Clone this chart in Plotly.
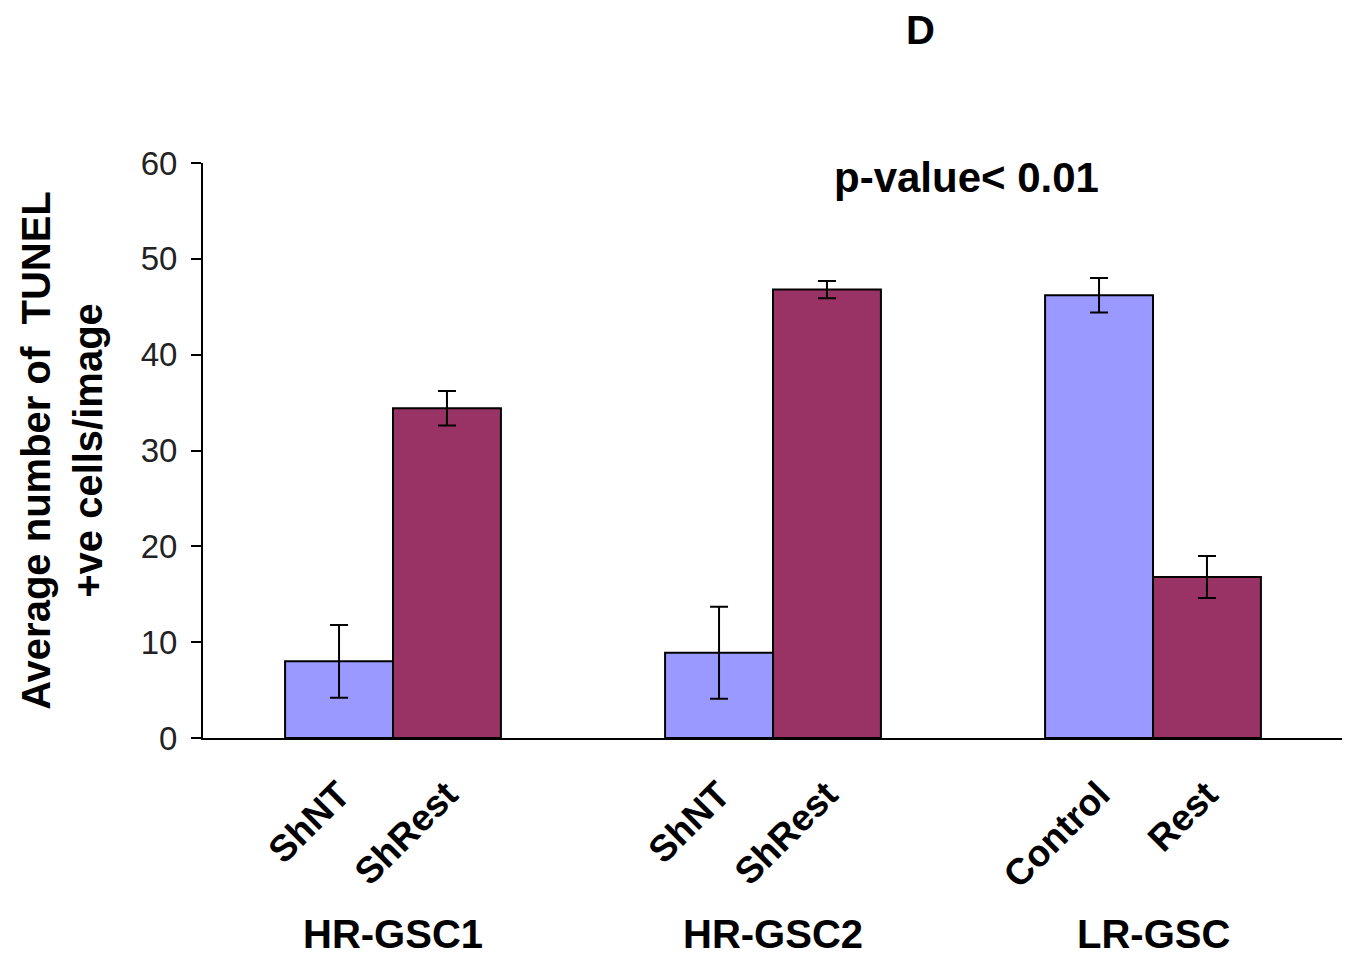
import plotly.graph_objects as go

groups = ["HR-GSC1", "HR-GSC2", "LR-GSC"]
first_labels = ["ShNT", "ShNT", "Control"]
second_labels = ["ShRest", "ShRest", "Rest"]
first_values = [8.0, 8.9, 46.2]
first_err = [3.8, 4.8, 1.8]
second_values = [34.4, 46.8, 16.8]
second_err = [1.8, 0.9, 2.2]
y_ticks = [0, 10, 20, 30, 40, 50, 60]

bar_w = 0.284
gi = list(range(len(groups)))
x1 = [g - bar_w / 2 for g in gi]
x2 = [g + bar_w / 2 for g in gi]

FONT = "Liberation Sans, Arial, sans-serif"
W, H = 1342, 953
ML, MR, MT, MB = 195, 7, 155, 223
PW, PH = W - ML - MR, H - MT - MB

fig = go.Figure()
fig.add_trace(go.Bar(
    x=x1, y=first_values, width=bar_w,
    marker=dict(color="#9999FF", line=dict(color="black", width=2)),
    error_y=dict(type="data", array=first_err, color="black", thickness=2, width=9),
    showlegend=False,
))
fig.add_trace(go.Bar(
    x=x2, y=second_values, width=bar_w,
    marker=dict(color="#993366", line=dict(color="black", width=2)),
    error_y=dict(type="data", array=second_err, color="black", thickness=2, width=9),
    showlegend=False,
))

tickvals = []
ticktext = []
for i in gi:
    tickvals += [x1[i], x2[i]]
    ticktext += ["<b>%s</b>" % first_labels[i], "<b>%s</b>" % second_labels[i]]

fig.update_layout(
    width=W, height=H,
    margin=dict(l=ML, r=MR, t=MT, b=MB),
    paper_bgcolor="white", plot_bgcolor="white",
    font=dict(family=FONT, color="black"),
    barmode="overlay",
    xaxis=dict(
        range=[-0.5, 2.5], tickvals=tickvals, ticktext=ticktext,
        tickangle=-45, tickfont=dict(size=37, family=FONT, color="black"),
        showline=True, linecolor="black", linewidth=2, ticks="", showgrid=False,
        zeroline=False, ticklabelstandoff=18,
    ),
    yaxis=dict(
        range=[0, 60], tickvals=y_ticks, ticks="outside", ticklen=10, tickwidth=2,
        tickcolor="black", showline=True, linecolor="black", linewidth=2,
        showgrid=False, zeroline=False, ticklabelstandoff=7,
        tickfont=dict(size=33, family=FONT, color="#222"),
        title=dict(text="<b>Average number of  TUNEL<br>+ve cells/image</b>",
                   font=dict(size=40, family=FONT, color="black"), standoff=26),
    ),
)

for i, g in enumerate(groups):
    fig.add_annotation(x=i, y=0, xref="x", yref="paper", yshift=-196,
                       text="<b>%s</b>" % g, showarrow=False,
                       font=dict(size=40, family=FONT, color="black"),
                       xanchor="center", yanchor="middle")

fig.add_annotation(x=(912 - ML) / PW, y=1 + (MT - 22) / PH, xref="paper", yref="paper",
                   text="<b>D</b>", showarrow=False,
                   font=dict(size=40, family=FONT, color="black"),
                   xanchor="center", yanchor="middle")
fig.add_annotation(x=(958 - ML) / PW, y=1.0, xref="paper", yref="paper", yshift=-14,
                   text="<b>p-value< 0.01</b>", showarrow=False,
                   font=dict(size=42, family=FONT, color="black"),
                   xanchor="center", yanchor="middle")

fig.write_html("out.html")
